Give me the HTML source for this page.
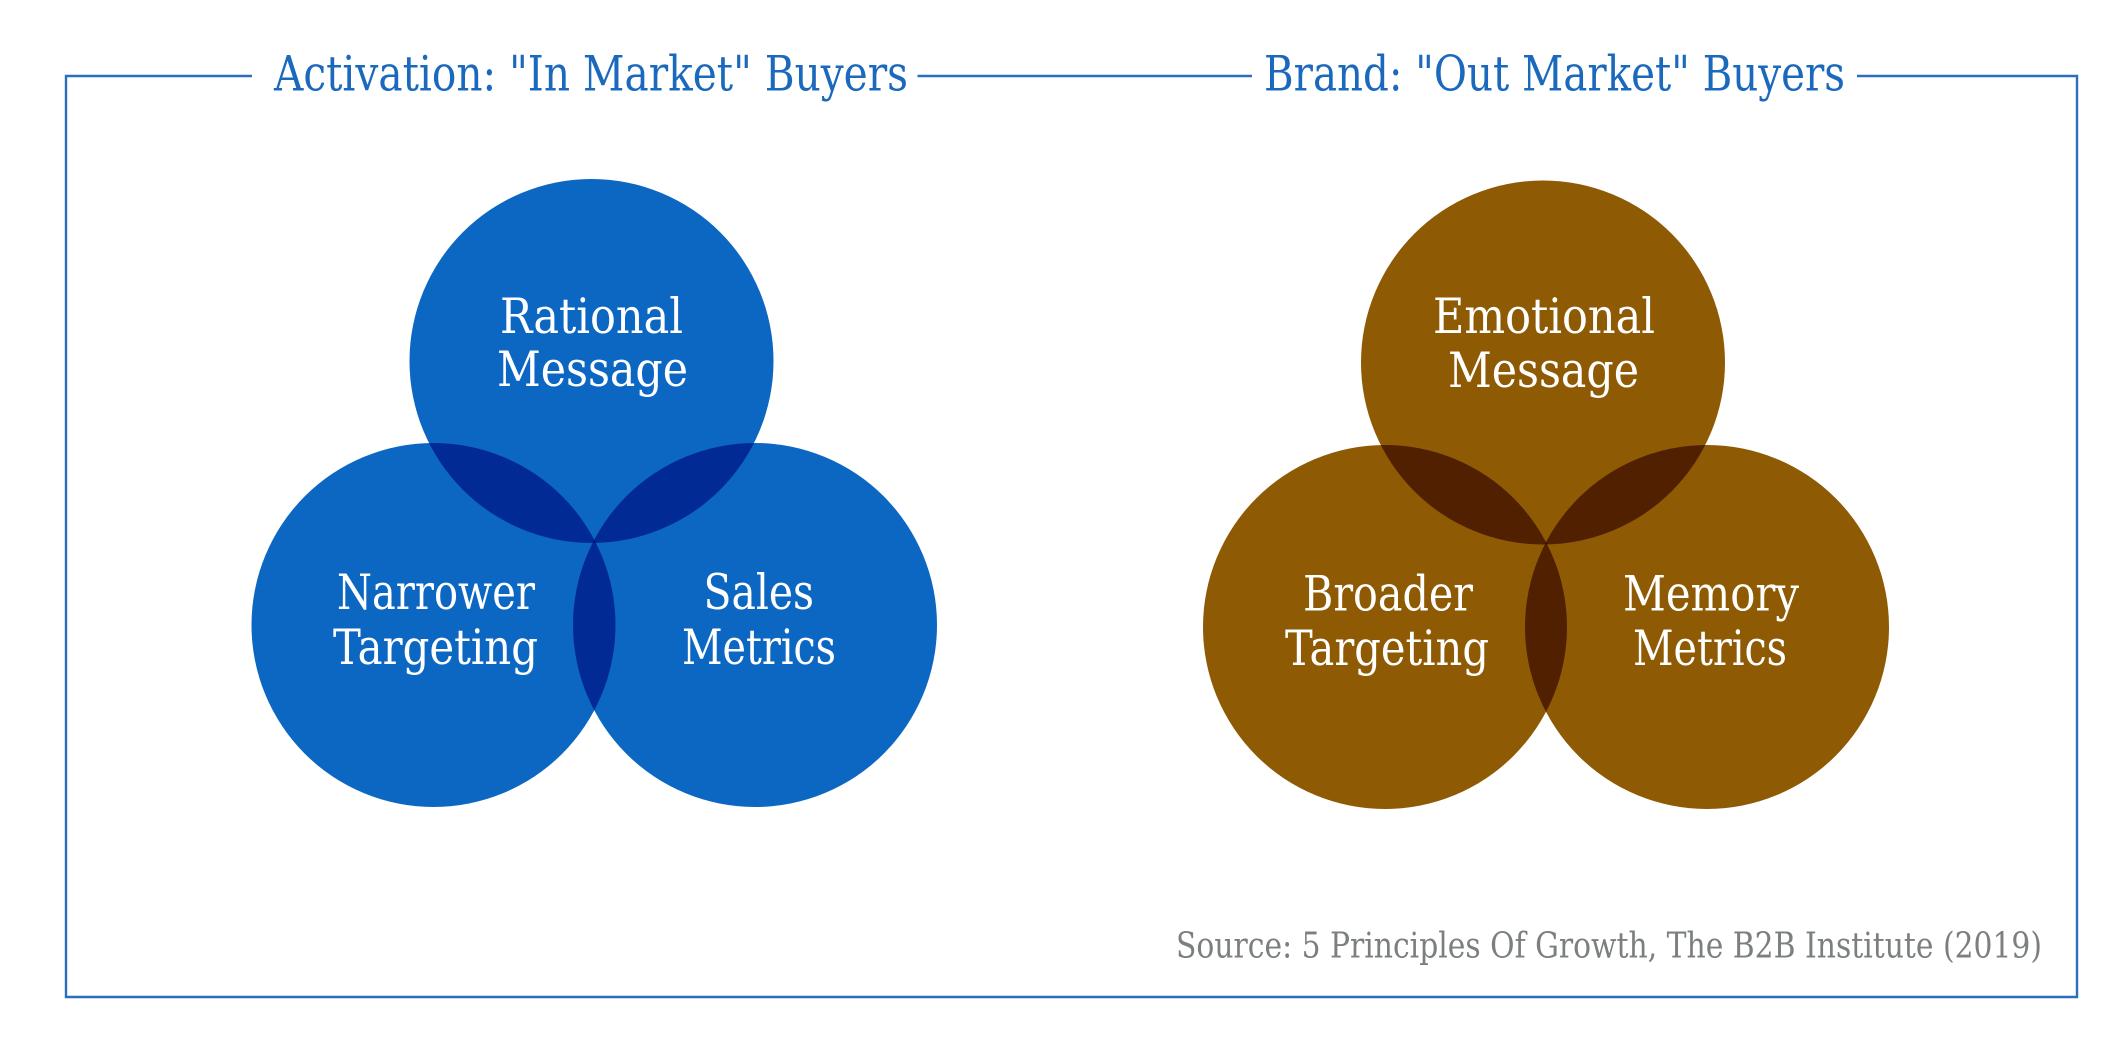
<!DOCTYPE html>
<html lang="en">
<head>
<meta charset="utf-8">
<title>Activation vs Brand</title>
<style>
html,body{margin:0;padding:0;background:#fff;width:2117px;height:1053px;overflow:hidden}
svg{display:block}
text{font-family:"DejaVu Serif","Liberation Serif",serif}
.c{mix-blend-mode:multiply}
.t{fill:#1b69bd;font-size:49px}
.w{fill:#fff;font-size:49px}
.s{fill:#7b807e;font-size:35.5px}
</style>
</head>
<body>
<svg width="2117" height="1053" viewBox="0 0 2117 1053" xmlns="http://www.w3.org/2000/svg">
<rect width="2117" height="1053" fill="#fff"/>
<g fill="none" stroke="#2a6fbe" stroke-width="2.4">
<path d="M252 76H66V997H2077V76H1857"/>
<path d="M917.5 76H1252"/>
</g>
<g style="isolation:isolate">
<g fill="#0c67c3">
<circle class="c" cx="591.5" cy="361" r="182"/>
<circle class="c" cx="433.5" cy="625" r="182"/>
<circle class="c" cx="755" cy="625" r="182"/>
</g>
<g fill="#8f5a04">
<circle class="c" cx="1543" cy="362.5" r="182"/>
<circle class="c" cx="1385" cy="627" r="182"/>
<circle class="c" cx="1707" cy="627" r="182"/>
</g>
</g>
<text class="t" x="274" y="90.5" textLength="634" lengthAdjust="spacingAndGlyphs">Activation: "In Market" Buyers</text>
<text class="t" x="1264" y="90.5" textLength="581" lengthAdjust="spacingAndGlyphs">Brand: "Out Market" Buyers</text>
<text class="w" x="500" y="333" textLength="183" lengthAdjust="spacingAndGlyphs">Rational</text>
<text class="w" x="497" y="386" textLength="191" lengthAdjust="spacingAndGlyphs">Message</text>
<text class="w" x="337" y="609" textLength="198" lengthAdjust="spacingAndGlyphs">Narrower</text>
<text class="w" x="333" y="664" textLength="205" lengthAdjust="spacingAndGlyphs">Targeting</text>
<text class="w" x="703.5" y="609" textLength="110.5" lengthAdjust="spacingAndGlyphs">Sales</text>
<text class="w" x="682" y="664" textLength="154" lengthAdjust="spacingAndGlyphs">Metrics</text>
<text class="w" x="1433" y="333" textLength="222" lengthAdjust="spacingAndGlyphs">Emotional</text>
<text class="w" x="1448" y="387" textLength="191" lengthAdjust="spacingAndGlyphs">Message</text>
<text class="w" x="1303" y="610.5" textLength="170" lengthAdjust="spacingAndGlyphs">Broader</text>
<text class="w" x="1285" y="665" textLength="204" lengthAdjust="spacingAndGlyphs">Targeting</text>
<text class="w" x="1623" y="610.5" textLength="176" lengthAdjust="spacingAndGlyphs">Memory</text>
<text class="w" x="1633" y="665" textLength="154" lengthAdjust="spacingAndGlyphs">Metrics</text>
<text class="s" x="1176" y="957.5" textLength="866" lengthAdjust="spacingAndGlyphs">Source: 5 Principles Of Growth, The B2B Institute (2019)</text>
</svg>
</body>
</html>
